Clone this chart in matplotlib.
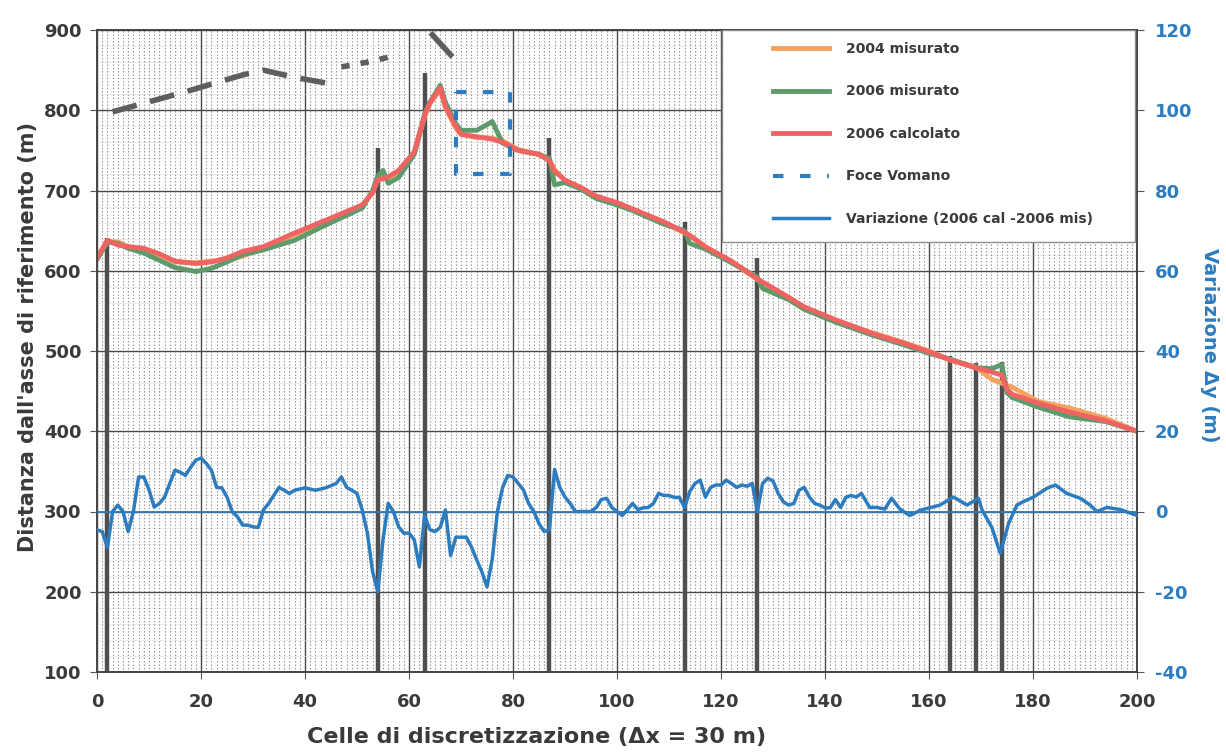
import matplotlib
matplotlib.use("Agg")
import matplotlib.pyplot as plt
import matplotlib.ticker as ticker
from matplotlib.patches import Rectangle

plt.rcParams["axes.unicode_minus"] = False

# --- data -----------------------------------------------------------------
cells = [0, 2, 4, 6, 9, 12, 15, 19, 22, 25, 28, 32, 38, 44, 51, 53, 54, 55, 56, 58,
         61, 63, 64, 66, 67, 69, 70, 73, 75, 76, 78, 81, 85, 87, 88, 90, 93, 96, 100,
         103, 109, 113, 114, 117, 122, 127, 128, 133, 136, 142, 149, 155, 160, 164,
         169, 172, 174, 175, 176, 181, 187, 194, 200]

mis_2004 = [615, 636, 636, 630, 626, 619, 611, 610, 612, 613, 618, 628, 645, 662, 681,
            698, 715, 720, 716, 722, 746, 792, 808, 826, 803, 778, 770, 766, 766, 765,
            762, 751, 745, 738, 726, 712, 703, 692, 684, 676, 660, 647, 644, 629, 611,
            589, 585, 566, 554, 538, 523, 511, 500, 489, 480, 465, 460, 457, 455, 437,
            429, 416, 400]

mis_2006 = [614, 636, 634, 628, 622, 613, 604, 599, 603, 611, 620, 626, 638, 657, 678,
            700, 718, 725, 709, 716, 745, 795, 810, 831, 810, 783, 775, 775, 782, 786,
            759, 750, 745, 740, 707, 710, 702, 690, 682, 675, 658, 650, 634, 627, 610,
            592, 578, 564, 552, 536, 520, 508, 497, 490, 479, 478, 483, 448, 442, 430,
            418, 412, 400]

calc_2006 = [616, 638, 632, 630, 628, 621, 612, 609, 611, 616, 624, 630, 647, 663, 682,
             697, 713, 715, 717, 725, 748, 794, 809, 828, 805, 780, 770, 767, 765, 764,
             760, 750, 745, 737, 724, 713, 704, 693, 685, 677, 661, 648, 644, 630, 612,
             590, 586, 567, 555, 539, 522, 510, 499, 489, 479, 474, 470, 452, 446, 435,
             424, 413, 400]

var_x = [0, 1, 2, 3, 4, 5, 6, 7, 8, 9, 10, 11, 12, 13, 14, 15, 16, 17, 18, 19, 20, 21,
         22, 23, 24, 25, 26, 27, 28, 29, 30, 31, 32, 33, 34, 35, 36, 37, 38, 40, 42, 44,
         46, 47, 48, 49, 50, 51, 52, 53, 54, 55, 56, 57, 58, 59, 60, 61, 62, 63, 64, 65,
         66, 67, 68, 69, 70, 71, 72, 73, 74, 75, 76, 77, 78, 79, 80, 81, 82, 83, 84, 85,
         86, 87, 88, 89, 90, 91, 92, 93, 95, 96, 97, 98, 99, 100, 101, 102, 103, 104,
         105, 106, 107, 108, 109, 110, 111, 112, 113, 114, 115, 116, 117, 118, 119, 120,
         121, 122, 123, 124, 125, 126, 127, 128, 129, 130, 131, 132, 133, 134, 135, 136,
         137, 138, 139, 140, 141, 142, 143, 144, 145, 146, 147, 148.6, 150, 151.5, 152.8,
         154.4, 156.3, 158.3, 162.1, 164.7, 167.3, 169.5, 170.2, 172.1, 173.7, 175.3,
         176.9, 178.2, 180.1, 182.7, 184.3, 186.5, 189.1, 191, 192.3, 194.2, 196.8, 200]

var_y = [-4.6, -5, -9, 0, 1.6, 0, -5, 0, 8.6, 8.6, 5.4, 1.1, 2, 3.6, 7, 10.3, 9.8, 9, 11,
         12.8, 13.3, 12, 10.3, 6, 5.9, 3.6, 0, -1.3, -3.4, -3.4, -3.8, -4, 0.4, 2, 4, 6,
         5.3, 4.5, 5.3, 5.9, 5.3, 5.9, 7, 8.6, 6, 5.3, 4.5, 0.4, -5.4, -15, -20, -7, 2, 0,
         -3.8, -5.4, -5.4, -7, -13.8, -1, -4.5, -5, -4, 0.4, -11, -6.4, -6.4, -6.4, -8.8,
         -12, -15, -18.8, -12, 0, 6, 9, 8.6, 7, 5.4, 2, 0, -3, -5, -4.6, 10.5, 6, 3.6, 2,
         0, 0, 0, 1, 3, 3.3, 1, 0, -1, 0.5, 2, 0.5, 0.9, 1, 2, 4.5, 4, 4, 3.5, 3.5, 1, 5,
         7, 7.8, 3.6, 6, 6.6, 6.6, 7.8, 7, 6, 6.6, 6.3, 7, 0, 7, 8.3, 7.6, 4.5, 2.4, 1.6,
         2, 5.3, 6, 3.6, 2, 1.6, 0.9, 0.9, 3, 1, 3.5, 4, 3.6, 4.5, 1, 1, 0.6, 3.3, 0.6,
         -1, 0.3, 1.6, 3.6, 1.6, 3.3, 0.4, -4, -10.4, -3, 1.6, 2.5, 3.6, 5.8, 6.6, 4.5,
         3.3, 1.6, 0, 1, 0.5, -1]

# groynes (pennelli): cell and top of the bar
groyne_x = [2, 54, 63, 87, 113, 127, 164, 169, 174]
groyne_top = [641, 753, 846, 765, 661, 616, 494, 485, 486]

# Foce Vomano dashed box (cells / metres)
foce_x = [69, 79.5]
foce_y = [720, 823]

# grey dashed trace at the top
trace_x = [3, 17, 28, 32, 38, 44]
trace_y = [798, 823, 844, 850, 841, 834]
trace2_x = [47, 52, 58]
trace2_y = [854, 860, 869]
trace3_x = [64.5, 68]
trace3_y = [894, 869]

# --- colours ---------------------------------------------------------------
c_orange = "#f5a25e"
c_green = "#5e9a6c"
c_red = "#ef6463"
c_blue = "#2c7cbf"
c_text = "#3a3a3a"

fig = plt.figure(figsize=(12.26, 7.55), dpi=100)
ax = fig.add_axes([97 / 1226, 1 - 672 / 755, 1040 / 1226, 642 / 755])
ax2 = ax.twinx()

# grid like graph paper
ax.set_xlim(0, 200)
ax.set_ylim(100, 900)
ax.set_xticks(range(0, 201, 20))
ax.set_yticks(range(100, 901, 100))
ax.xaxis.set_minor_locator(ticker.MultipleLocator(1))
ax.yaxis.set_minor_locator(ticker.MultipleLocator(20))
ax.grid(True, which="major", color="#4a4a4a", linewidth=1.0)
ax.grid(True, which="minor", axis="x", color="#8f8f8f", linewidth=0.8,
        linestyle=(0, (1.2, 1.8)))
ax.grid(True, which="minor", axis="y", color="#c0c0c0", linewidth=0.6,
        linestyle=(0, (1, 2)))
ax.set_axisbelow(True)
ax.tick_params(which="minor", length=0)
ax.tick_params(which="major", length=5, color="#555", labelsize=13,
               labelcolor=c_text)
ax.tick_params(axis="x", pad=10)
ax.tick_params(axis="y", pad=6)
for lab in ax.get_xticklabels() + ax.get_yticklabels():
    lab.set_fontweight("bold")

# groynes
ax.vlines(groyne_x, 100, groyne_top, color="#4f4f4f", linewidth=3.2, zorder=2)

# top grey dashed trace
ax.plot(trace_x, trace_y, color="#5e5e5e", linewidth=4, dashes=(4.5, 2.5), zorder=3)
ax.plot(trace2_x, trace2_y, color="#5e5e5e", linewidth=4, dashes=(1.5, 2), zorder=3)
ax.plot(trace3_x, trace3_y, color="#5e5e5e", linewidth=4, zorder=3)

# shoreline curves
l1, = ax.plot(cells, mis_2004, color=c_orange, linewidth=3.5, zorder=4,
              label="2004 misurato")
l2, = ax.plot(cells, mis_2006, color=c_green, linewidth=3.5, zorder=4,
              label="2006 misurato")
l3, = ax.plot(cells, calc_2006, color=c_red, linewidth=3.5, zorder=4,
              label="2006 calcolato")

# Foce Vomano box
bx = [foce_x[0], foce_x[1], foce_x[1], foce_x[0], foce_x[0]]
by = [foce_y[1], foce_y[1], foce_y[0], foce_y[0], foce_y[1]]
l4, = ax.plot(bx, by, color=c_blue, linewidth=3, dashes=(2.5, 4), zorder=4,
              label="Foce Vomano")

# variation on secondary axis
ax2.set_ylim(-40, 120)
ax2.set_yticks(range(-40, 121, 20))
ax2.axhline(0, color=c_blue, linewidth=1.3, zorder=3)
l5, = ax2.plot(var_x, var_y, color=c_blue, linewidth=2.5, zorder=4,
               label="Variazione (2006 cal -2006 mis)")
ax2.tick_params(length=5, color="#555", labelsize=13, labelcolor=c_blue, pad=8)
for lab in ax2.get_yticklabels():
    lab.set_fontweight("bold")

for a in (ax, ax2):
    for s in a.spines.values():
        s.set_color("#444")
        s.set_linewidth(1.2)

# labels
ax.set_xlabel("Celle di discretizzazione (\u0394x = 30 m)", fontsize=16,
              fontweight="bold", color=c_text)
ax.xaxis.set_label_coords((537 - 97) / 1040, -(727 - 672) / 642)
ax.set_ylabel("Distanza dall'asse di riferimento (m)", fontsize=15,
              fontweight="bold", color=c_text)
ax.yaxis.set_label_coords(-(97 - 38) / 1040, (672 - 337) / 642)
ax2.set_ylabel("Variazione \u0394y (m)", fontsize=14, fontweight="bold",
               color=c_blue, rotation=270, va="center")
ax2.yaxis.set_label_coords((1210 - 97) / 1040, (672 - 345) / 642)

# legend box
box = Rectangle((0.601, 0.670), 0.397, 0.330, transform=ax2.transAxes,
                facecolor="white", edgecolor="#8c8c8c", linewidth=1.0, zorder=5)
ax2.add_patch(box)
leg = ax2.legend(handles=[l1, l2, l3, l4, l5], loc="upper left",
                 bbox_to_anchor=(0.645, 0.99), frameon=False,
                 prop={"size": 10, "weight": "bold"}, labelspacing=2.05,
                 handlelength=4.0, handletextpad=1.2, borderaxespad=0)
for t in leg.get_texts():
    t.set_color(c_text)
leg.set_zorder(6)

fig.savefig("out.png", dpi=100, facecolor="white")
